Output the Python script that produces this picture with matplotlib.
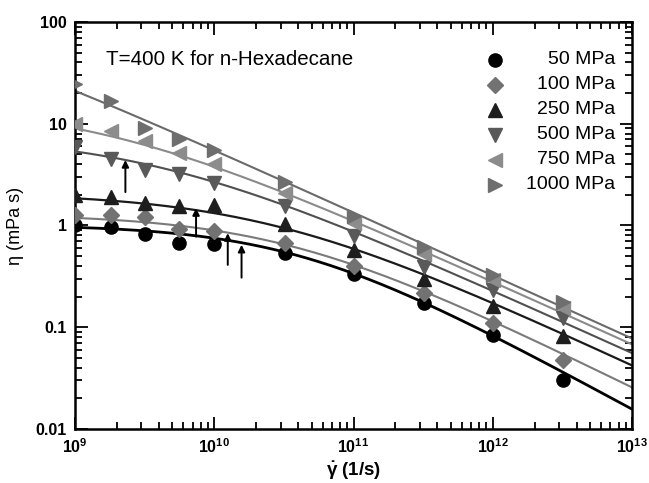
import numpy as np
import matplotlib
matplotlib.use('Agg')
import matplotlib.pyplot as plt
from matplotlib.ticker import LogLocator, NullFormatter, FixedLocator, FixedFormatter

plt.rcParams['font.family'] = 'Liberation Sans'
plt.rcParams['mathtext.fontset'] = 'custom'
plt.rcParams['mathtext.rm'] = 'Liberation Sans'
plt.rcParams['mathtext.it'] = 'Liberation Sans'
plt.rcParams['mathtext.bf'] = 'Liberation Sans:bold'

# shear rate (1/s)
shear = [1e9, 1.8e9, 3.2e9, 5.6e9, 1e10, 3.2e10, 1e11, 3.2e11, 1e12, 3.2e12]

# viscosity (mPa s) at each pressure
eta_50 = [1.0, 0.97, 0.82, 0.68, 0.66, 0.54, 0.33, 0.172, 0.083, 0.030]
eta_100 = [1.27, 1.27, 1.22, 0.92, 0.89, 0.68, 0.40, 0.215, 0.111, 0.048]
eta_250 = [2.0, 1.91, 1.67, 1.57, 1.58, 1.03, 0.58, 0.30, 0.162, 0.082]
eta_500 = [5.9, 4.55, 3.5, 3.2, 2.6, 1.55, 0.78, 0.39, 0.23, 0.122]
eta_750 = [9.9, 8.4, 6.7, 5.2, 4.0, 2.07, 1.05, 0.53, 0.29, 0.153]
eta_1000 = [24.5, 16.7, 9.0, 7.1, 5.5, 2.7, 1.24, 0.62, 0.326, 0.178]

pressures = ['50 MPa', '100 MPa', '250 MPa', '500 MPa', '750 MPa', '1000 MPa']

# Cross model fit parameters: eta0 (mPa s), critical shear rate (1/s), exponent
fit_eta0 = [1.02, 1.3, 2.1, 7.8, 16.0, 206.0]
fit_gc = [3.9e10, 3.2e10, 2.3e10, 3.5e9, 1.5e9, 3e7]
fit_m = [0.75, 0.68, 0.64, 0.62, 0.62, 0.62]

# arrows: x, tail y, head y
arrow_x = [2.3e9, 7.4e9, 1.25e10, 1.57e10]
arrow_y0 = [2.13, 0.776, 0.41, 0.307]
arrow_y1 = [4.4, 1.48, 0.84, 0.646]

markers = ['o', 'D', '^', 'v', '<', '>']
mcolors = ['#000000', '#727272', '#1e1e1e', '#595959', '#8c8c8c', '#6e6e6e']
lcolors = ['#000000', '#7a7a7a', '#1a1a1a', '#505050', '#8a8a8a', '#6a6a6a']
lwidths = [2.0, 1.5, 1.6, 1.5, 1.5, 1.5]
msizes = [9.5, 8.5, 10, 10, 10, 10]

data = [eta_50, eta_100, eta_250, eta_500, eta_750, eta_1000]

fig = plt.figure(figsize=(6.49, 4.83), dpi=100)
ax = fig.add_axes([0.1156, 0.1118, 0.8582, 0.8427])

g = np.logspace(9, 13, 400)
for i in range(6):
    fit = fit_eta0[i] / (1 + (g / fit_gc[i]) ** fit_m[i])
    ax.plot(g, fit, color=lcolors[i], lw=lwidths[i], zorder=2)
    ax.plot(shear, data[i], linestyle='none', marker=markers[i], ms=msizes[i],
            color=mcolors[i], mec=mcolors[i], zorder=3)

for x, y0, y1 in zip(arrow_x, arrow_y0, arrow_y1):
    ax.annotate('', xy=(x, y1), xytext=(x, y0),
                arrowprops=dict(arrowstyle='-|>', color='black', lw=1.4,
                                mutation_scale=10, shrinkA=0, shrinkB=0))

ax.set_xscale('log')
ax.set_yscale('log')
ax.set_xlim(1e9, 1e13)
ax.set_ylim(0.01, 100)

xt = [1e9, 1e10, 1e11, 1e12, 1e13]
ax.xaxis.set_major_locator(FixedLocator(xt))
ax.xaxis.set_major_formatter(FixedFormatter([r'$\mathbf{10^{%d}}$' % e for e in range(9, 14)]))
yt = [0.01, 0.1, 1, 10, 100]
ax.yaxis.set_major_locator(FixedLocator(yt))
ax.yaxis.set_major_formatter(FixedFormatter(['0.01', '0.1', '1', '10', '100']))
for axis in (ax.xaxis, ax.yaxis):
    axis.set_minor_locator(LogLocator(base=10, subs=np.arange(2, 10), numticks=20))
    axis.set_minor_formatter(NullFormatter())

ax.tick_params(which='both', direction='in', top=True, right=True, width=1.3)
ax.tick_params(which='major', length=9, labelsize=11.5, pad=6)
ax.tick_params(which='minor', length=5)
for lab in ax.get_yticklabels():
    lab.set_fontweight('bold')
for sp in ax.spines.values():
    sp.set_linewidth(1.8)

ax.set_xlabel(r'$\mathbf{\dot{\gamma}}$ (1/s)', fontsize=13.5, fontweight='bold', labelpad=3)
ax.set_ylabel('η (mPa s)', fontsize=13, labelpad=8)

ax.text(0.055, 0.907, 'T=400 K for n-Hexadecane', transform=ax.transAxes,
        fontsize=14.8, va='center', ha='left')

# legend drawn by hand so the labels can be right aligned
for i in range(6):
    yy = 0.907 - i * 0.0614
    ax.plot([0.754], [yy], transform=ax.transAxes, marker=markers[i], ms=msizes[i],
            color=mcolors[i], linestyle='none', clip_on=False)
    ax.text(0.9695, yy, pressures[i], transform=ax.transAxes, fontsize=14,
            ha='right', va='center')

fig.savefig('out.png', dpi=100)
